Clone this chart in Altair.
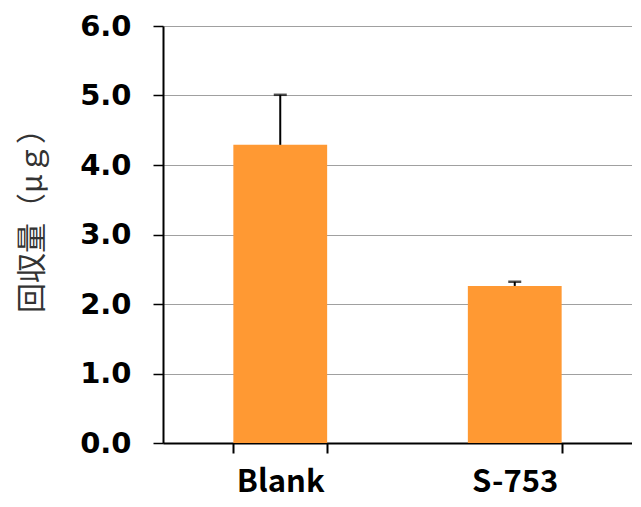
import altair as alt
import pandas as pd

categories = ["Blank", "S-753"]
values = [4.29, 2.26]
err_top = [5.01, 2.32]
y_ticks = [0, 1, 2, 3, 4, 5, 6]

df = pd.DataFrame({"cat": categories, "val": values, "top": err_top})

x = alt.X("cat:N", sort=categories, title=None,
          scale=alt.Scale(paddingInner=0.6, paddingOuter=0.3),
          axis=alt.Axis(labelAngle=0, labelFont="Noto Sans CJK JP", labelFontWeight="bold",
                        labelFontSize=31, labelColor="black", labelPadding=14,
                        tickBand="extent", ticks=True, tickSize=10, tickColor="black",
                        tickWidth=2, domainColor="black", domainWidth=2, grid=False))
y_scale = alt.Scale(domain=[0, 6], nice=False)

bars = alt.Chart(df).mark_bar(color="#FF9933").encode(
    x=x,
    y=alt.Y("val:Q", scale=y_scale, title="回収量（μｇ）",
            axis=alt.Axis(values=y_ticks, format=".1f", labelFont="DejaVu Sans",
                          labelFontWeight="bold", labelFontSize=29, labelColor="black",
                          labelPadding=22, tickSize=10, tickColor="black", tickWidth=1.5,
                          domainColor="black", domainWidth=2, grid=True,
                          gridColor="#a0a0a0", gridWidth=1.2,
                          titleFont="Noto Sans CJK JP", titleFontWeight="normal",
                          titleFontSize=30, titleColor="#333333",
                          titleX=-131, titleY=187, titleAngle=-90, titleBaseline="middle",
                          titleAlign="center")),
)

rules = alt.Chart(df).mark_rule(color="black", strokeWidth=2).encode(
    x=alt.X("cat:N", sort=categories),
    y=alt.Y("val:Q", scale=y_scale),
    y2="top:Q",
)

caps = alt.Chart(df).mark_tick(color="black", thickness=2.5, size=13).encode(
    x=alt.X("cat:N", sort=categories),
    y=alt.Y("top:Q", scale=y_scale),
)

chart = alt.layer(bars, rules, caps).properties(
    width=469, height=417,
    autosize=alt.AutoSizeParams(type="none"),
    padding={"left": 155, "top": 18, "right": 0, "bottom": 60},
).configure_view(stroke="black", strokeWidth=1.5).configure(background="white")

chart.save("out.html", embed_options={"renderer": "svg", "actions": False})
